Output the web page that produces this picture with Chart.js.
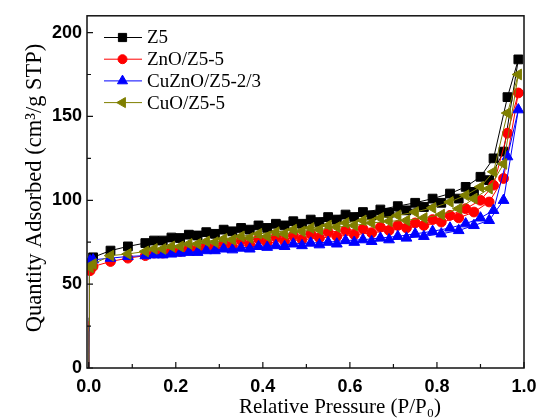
<!DOCTYPE html>
<html>
<head>
<meta charset="utf-8">
<script src="https://cdn.jsdelivr.net/npm/chart.js@4/dist/chart.umd.min.js"></script>
<style>
html,body{margin:0;padding:0;background:#fff;}
#wrap{width:537px;height:418px;position:relative;}
</style>
</head>
<body>
<div id="wrap"><canvas id="c" width="537" height="418"></canvas></div>
<script>
// ---- data ----
const seriesNames = ["Z5", "ZnO/Z5-5", "CuZnO/Z5-2/3", "CuO/Z5-5"];
const xTicks = [0, 0.2, 0.4, 0.6, 0.8, 1.0];
const xMinorTicks = [0.1, 0.3, 0.5, 0.7, 0.9];
const yTicks = [0, 50, 100, 150, 200];
const yMinorTicks = [25, 75, 125, 175];

const lowP = [0, 0.0003, 0.0007, 0.0012, 0.002, 0.003];
const adsP = [0.01, 0.05, 0.09, 0.13, 0.17, 0.21, 0.25, 0.29, 0.33, 0.37, 0.41, 0.45, 0.49, 0.53, 0.57, 0.61, 0.65, 0.69, 0.73, 0.77, 0.81, 0.85, 0.885, 0.92, 0.953, 0.987];
const desP = [0.962, 0.93, 0.9, 0.866, 0.83, 0.79, 0.75, 0.71, 0.67, 0.63, 0.59, 0.55, 0.51, 0.47, 0.43, 0.39, 0.35, 0.31, 0.27, 0.23, 0.19, 0.15];

const z5Low = [0, 12, 30, 48, 58, 62];
const z5Ads = [66, 70, 72.5, 74.5, 76, 77.5, 79, 80, 81.5, 82.5, 83.5, 85, 86, 87, 88.5, 90, 91, 92.5, 94, 96, 98.5, 101, 105, 112, 129, 184];
const z5Des = [161.5, 125, 114, 108, 104, 101, 98.5, 96.5, 94.5, 93, 91.5, 90, 88.5, 87.5, 86, 85, 83.5, 82.5, 81, 79.5, 77.8, 76];

const znoLow = [0, 10, 28, 45, 54, 58];
const znoAds = [60.5, 63.5, 65.5, 67, 68.5, 69.5, 70.5, 71.5, 72.5, 73.5, 74.5, 75.5, 76.5, 77.5, 78.5, 79.5, 80.5, 82, 83.5, 85, 87, 89.5, 93, 99, 113, 164];
const znoDes = [140, 109, 100, 95, 91, 88.5, 86.5, 85, 84, 83, 82, 81, 80, 79, 78, 77, 76, 74.5, 73, 71.5, 70, 68.5];

const cuznoLow = [0, 8, 22, 38, 55, 64];
const cuznoAds = [64.5, 65.5, 66.5, 67, 67.5, 68.5, 69, 70, 70.5, 71, 72, 72.5, 73, 73.5, 74, 75, 75.5, 76.5, 77.5, 78.5, 80, 82, 85, 88, 100, 154];
const cuznoDes = [126, 94, 89.5, 86, 83.5, 81.5, 80, 78.5, 77.5, 76.5, 76, 75, 74.5, 74, 73, 72.5, 71.5, 71, 70, 69, 68, 67.5];

const cuoLow = [0, 10, 25, 42, 55, 60];
const cuoAds = [62, 67, 68, 69.5, 71, 72.5, 74, 75, 76.5, 77.5, 78.5, 80, 81.5, 82.5, 84, 85, 86.5, 87.5, 88, 89.5, 91.5, 95, 101, 107, 121.7, 175];
const cuoDes = [152, 117, 108, 103, 99, 95.5, 93, 91, 89.5, 88, 86.5, 85, 83.5, 82.5, 81, 80, 78.5, 77, 75.5, 74, 72.5, 71];

// ---- build ----
function pts(low, ads, des) {
  const out = [];
  lowP.forEach((p, i) => out.push({x: p, y: low[i]}));
  adsP.forEach((p, i) => out.push({x: p, y: ads[i]}));
  desP.forEach((p, i) => out.push({x: p, y: des[i]}));
  return out;
}
const styles = [
  {color: '#000000', pointStyle: 'rect', radius: 6.2, rotation: 0},
  {color: '#ff0000', pointStyle: 'circle', radius: 4.9, rotation: 0},
  {color: '#0000ff', pointStyle: 'triangle', radius: 6.2, rotation: 0},
  {color: '#7f7f00', pointStyle: 'triangle', radius: 6.2, rotation: -90}
];
const allData = [pts(z5Low, z5Ads, z5Des), pts(znoLow, znoAds, znoDes), pts(cuznoLow, cuznoAds, cuznoDes), pts(cuoLow, cuoAds, cuoDes)];

const datasets = allData.map((d, i) => ({
  label: seriesNames[i],
  data: d,
  showLine: true,
  borderColor: styles[i].color,
  backgroundColor: styles[i].color,
  borderWidth: 1,
  pointStyle: styles[i].pointStyle,
  pointRotation: styles[i].rotation,
  pointRadius: ctx => (ctx.raw && ctx.raw.x < 0.0025 ? 0 : styles[i].radius),
  pointBorderWidth: 1,
  pointBackgroundColor: styles[i].color,
  pointBorderColor: styles[i].color,
  tension: 0,
  order: 3 - i
}));

const SERIF = '"Liberation Serif", "Times New Roman", serif';
const SANS = '"Liberation Sans", Arial, sans-serif';

const decor = {
  id: 'decor',
  afterDraw(chart) {
    const ctx = chart.ctx;
    const a = chart.chartArea;
    const xs = chart.scales.x, ys = chart.scales.y;
    ctx.save();
    ctx.strokeStyle = '#111';
    ctx.lineWidth = 1.5;
    ctx.strokeRect(a.left, a.top, a.right - a.left, a.bottom - a.top);
    ctx.lineWidth = 1.2;
    ctx.beginPath();
    xTicks.forEach(v => { const px = xs.getPixelForValue(v); ctx.moveTo(px, a.bottom); ctx.lineTo(px, a.bottom - 6); });
    xMinorTicks.forEach(v => { const px = xs.getPixelForValue(v); ctx.moveTo(px, a.bottom); ctx.lineTo(px, a.bottom - 4); });
    yTicks.forEach(v => { const py = ys.getPixelForValue(v); ctx.moveTo(a.left, py); ctx.lineTo(a.left + 6, py); });
    yMinorTicks.forEach(v => { const py = ys.getPixelForValue(v); ctx.moveTo(a.left, py); ctx.lineTo(a.left + 4, py); });
    ctx.stroke();

    // axis titles
    ctx.fillStyle = '#000';
    ctx.font = '21px ' + SERIF;
    ctx.textAlign = 'center';
    ctx.textBaseline = 'alphabetic';
    ctx.fillText('Relative Pressure (P/P\u2080)', 340, 413);
    ctx.save();
    ctx.font = '22.5px ' + SERIF;
    ctx.translate(41, 188);
    ctx.rotate(-Math.PI / 2);
    ctx.fillText('Quantity Adsorbed (cm\u00B3/g STP)', 0, 0);
    ctx.restore();

    // legend
    ctx.font = '19px ' + SERIF;
    ctx.textAlign = 'left';
    ctx.textBaseline = 'middle';
    seriesNames.forEach((name, i) => {
      const y = 37.5 + i * 21.7;
      const s = styles[i];
      ctx.strokeStyle = s.color;
      ctx.fillStyle = s.color;
      ctx.lineWidth = 1;
      ctx.beginPath();
      ctx.moveTo(104, y); ctx.lineTo(142, y);
      ctx.stroke();
      if (Chart.helpers && Chart.helpers.drawPoint) {
        Chart.helpers.drawPoint(ctx, {pointStyle: s.pointStyle, rotation: s.rotation, radius: s.radius - 0.4, borderWidth: 1}, 122.5, y);
      }
      ctx.fillStyle = '#000';
      ctx.fillText(name, 147, y + 1);
    });
    ctx.restore();
  }
};

new Chart(document.getElementById('c'), {
  type: 'scatter',
  data: {datasets},
  options: {
    responsive: false,
    animation: false,
    layout: {padding: {left: 0, top: 14, right: 13, bottom: 0}},
    plugins: {legend: {display: false}, tooltip: {enabled: false}},
    scales: {
      x: {
        type: 'linear', min: -0.004, max: 1.0,
        grid: {display: false, drawTicks: false},
        border: {display: false},
        afterBuildTicks: s => { s.ticks = xTicks.map(v => ({value: v})); },
        afterFit: s => { s.height = 50; s.paddingLeft = 0; s.paddingRight = 0; },
        ticks: {
          padding: 8, maxRotation: 0, autoSkip: false,
          color: '#000',
          font: {family: SANS, size: 18, weight: 'bold'},
          callback: v => Number(v).toFixed(1)
        }
      },
      y: {
        type: 'linear', min: 0, max: 210,
        grid: {display: false, drawTicks: false},
        border: {display: false},
        afterBuildTicks: s => { s.ticks = yTicks.map(v => ({value: v})); },
        afterFit: s => { s.width = 87; },
        ticks: {
          padding: 5, color: '#000',
          font: {family: SANS, size: 18, weight: 'bold'},
          callback: v => String(v)
        }
      }
    }
  },
  plugins: [decor]
});
</script>
</body>
</html>
